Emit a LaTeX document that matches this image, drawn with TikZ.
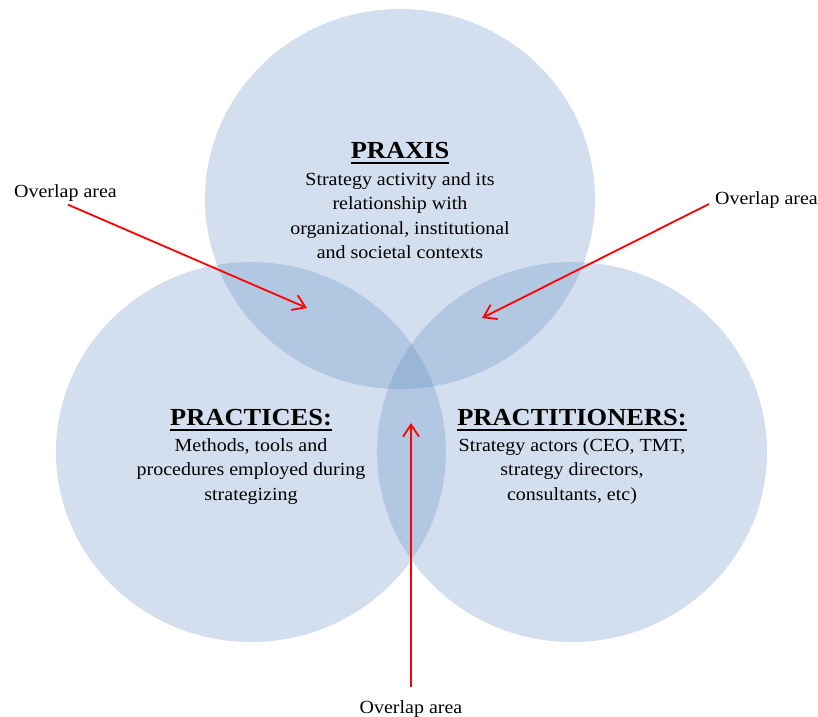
\documentclass[tikz,border=0pt]{standalone}
\usepackage{fontspec}
\setmainfont{Liberation Serif}[FakeStretch=1.08]
\usetikzlibrary{arrows.meta}
\definecolor{vennblue}{RGB}{79,129,189}
\definecolor{arrowred}{RGB}{255,0,0}
\begin{document}
\begin{tikzpicture}[x=1pt,y=-1pt,
  venn/.style={fill=vennblue,fill opacity=0.25,draw=none},
  titletext/.style={font=\fontsize{24.5}{28}\selectfont\bfseries, inner sep=0pt, anchor=base},
  bodytext/.style={font=\fontsize{18.5}{24.5}\selectfont, align=center, inner sep=0pt, anchor=base},
  lbl/.style={font=\fontsize{18.5}{22}\selectfont, inner sep=0pt},
  pointer/.style={draw=arrowred, line width=1.8pt, -{Straight Barb[length=12pt,width=16pt]}},
  uline/.style={line width=2pt}]
\useasboundingbox (0,0) rectangle (818,716);
% circles
\path[venn] (400,199) ellipse [x radius=195, y radius=190];
\path[venn] (251,452) ellipse [x radius=195, y radius=190];
\path[venn] (572,452) ellipse [x radius=195, y radius=190];
% PRAXIS
\node[titletext] (t1) at (400,158) {PRAXIS};
\draw[uline] ([yshift=-4.5pt]t1.base west) -- ([yshift=-4.5pt]t1.base east);
\node[bodytext] (b1) at (400,258.5) {Strategy activity and its\\relationship with\\organizational, institutional\\and societal contexts};
% PRACTICES
\node[titletext] (t2) at (251,425) {PRACTICES:};
\draw[uline] ([yshift=-4.5pt]t2.base west) -- ([yshift=-4.5pt]t2.base east);
\node[bodytext] (b2) at (251,500) {Methods, tools and\\procedures employed during\\strategizing};
% PRACTITIONERS
\node[titletext] (t3) at (572,425) {PRACTITIONERS:};
\draw[uline] ([yshift=-4.5pt]t3.base west) -- ([yshift=-4.5pt]t3.base east);
\node[bodytext] (b3) at (572,500) {Strategy actors (CEO, TMT,\\strategy directors,\\consultants, etc)};
% overlap labels
\node[lbl, anchor=base west] (lab1) at (14,197) {Overlap area};
\node[lbl, anchor=base west] (lab2) at (715,204) {Overlap area};
\node[lbl, anchor=base] (lab3) at (411,713) {Overlap area};
\coordinate (tip1) at (307,308);
\coordinate (tip2) at (482,318);
\coordinate (tip3) at (411,423);
\draw[pointer] ([xshift=2.5pt,yshift=-3.5pt]lab1.south) -- (tip1);
\draw[pointer] ([xshift=-6pt]lab2.base west) -- (tip2);
\draw[pointer] ([yshift=13pt]lab3.north) -- (tip3);
\end{tikzpicture}
\end{document}
